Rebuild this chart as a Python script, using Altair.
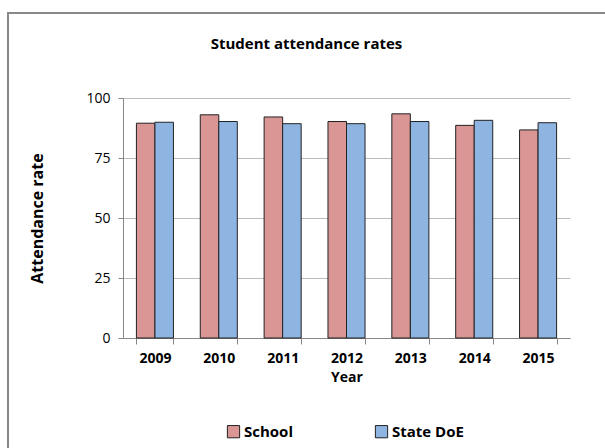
import altair as alt
import pandas as pd

years = ["2009", "2010", "2011", "2012", "2013", "2014", "2015"]
school = [89.5, 93.0, 92.1, 90.2, 93.4, 88.6, 86.7]
state = [89.9, 90.2, 89.3, 89.3, 90.2, 90.7, 89.7]
series = ["School", "State DoE"]
colors = ["#D99694", "#8EB4E2"]
title_text = ["Student attendance rates"]

rows = []
for y, a, b in zip(years, school, state):
    rows.append({"Year": y, "Series": series[0], "Rate": a})
    rows.append({"Year": y, "Series": series[1], "Rate": b})
df = pd.DataFrame(rows)

W, H = 447, 240
FONT = "Open Sans"

bars = alt.Chart(df).mark_bar(stroke="#222222", strokeWidth=1).encode(
    x=alt.X("Year:N", sort=years,
            scale=alt.Scale(paddingInner=0.42, paddingOuter=0.21),
            axis=alt.Axis(title="Year", labelAngle=0, tickBand="extent",
                          labelFont=FONT, labelFontWeight="bold", labelFontSize=14,
                          labelColor="#000", labelPadding=7,
                          titleFont=FONT, titleFontWeight="bold", titleFontSize=14,
                          titleColor="#000", titlePadding=5,
                          domainColor="#888", tickColor="#888", tickSize=6)),
    xOffset=alt.XOffset("Series:N", sort=series),
    y=alt.Y("Rate:Q", scale=alt.Scale(domain=[0, 100]),
            axis=alt.Axis(title="Attendance rate", values=[0, 25, 50, 75, 100],
                          labelFont=FONT, labelFontSize=14, labelColor="#000",
                          labelPadding=8, tickSize=5, tickColor="#888",
                          domainColor="#888", gridColor="#BBBBBB",
                          titleFont=FONT, titleFontWeight="bold", titleFontSize=16,
                          titleColor="#000", titlePadding=40)),
    color=alt.Color("Series:N", sort=series,
                    scale=alt.Scale(domain=series, range=colors),
                    legend=alt.Legend(title=None, orient="none", direction="horizontal",
                                      legendX=103, legendY=87 + H - 2 + 1,
                                      symbolType="square", symbolSize=150,
                                      symbolStrokeColor="#222", symbolStrokeWidth=1,
                                      labelFont=FONT, labelFontWeight="bold",
                                      labelFontSize=15, labelColor="#000",
                                      columnPadding=80, labelOffset=3)),
)

frame = alt.Chart(df).mark_rect(fill=None, stroke="#888888", strokeWidth=2, clip=False).encode(
    x=alt.value(-115), x2=alt.value(W + 60),
    y=alt.value(-85), y2=alt.value(H + 130),
)

title = alt.Chart(pd.DataFrame({"t": title_text})).mark_text(
    font=FONT, fontWeight="bold", fontSize=15, color="#000",
    align="center", baseline="middle", clip=False,
).encode(text="t:N", x=alt.value(W / 2 - 40), y=alt.value(-54))

chart = alt.layer(frame, bars, title).properties(
    width=W, height=H,
    autosize=alt.AutoSizeParams(type="none"),
    padding={"left": 123, "top": 98, "right": 35, "bottom": 110},
).configure_view(stroke=None).configure_axisX(grid=False)

chart.save("out.html", embed_options={"renderer": "svg", "actions": False})
